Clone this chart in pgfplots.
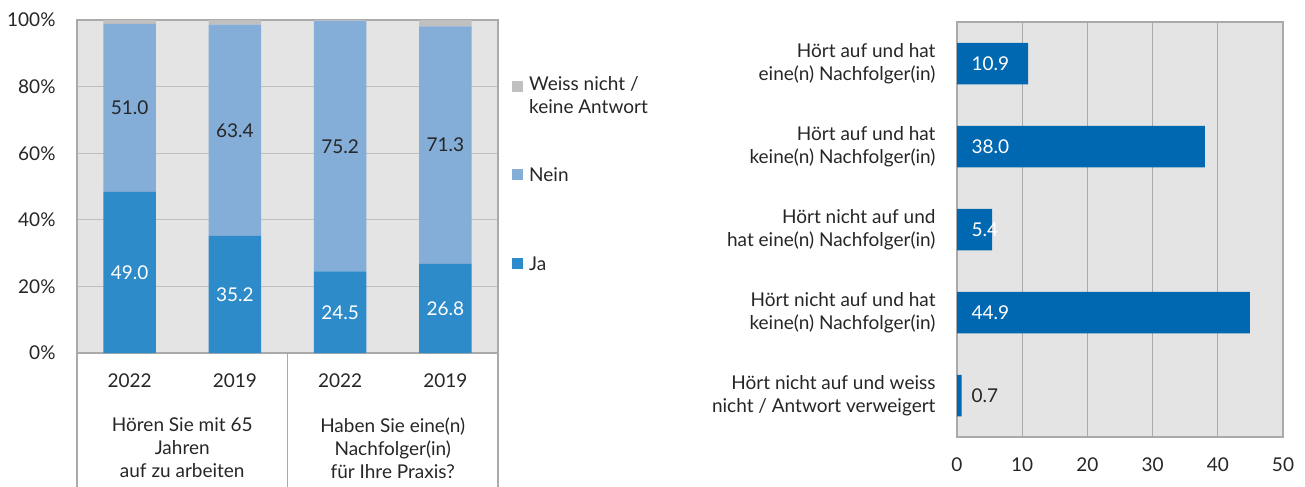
\documentclass[border=0pt]{standalone}
\usepackage{pgfplots}
\pgfplotsset{compat=1.18}
\usepackage{pgfplotstable}
\usepackage{fontspec}
\setmainfont{Lato}
\definecolor{ja}{RGB}{46,139,201}
\definecolor{nein}{RGB}{132,173,216}
\definecolor{weiss}{RGB}{192,192,192}
\definecolor{bg}{RGB}{228,228,228}
\definecolor{gridc}{RGB}{190,190,190}
\definecolor{framec}{RGB}{170,170,170}
\definecolor{barb}{RGB}{0,104,176}
\definecolor{txt}{RGB}{38,38,38}
\newcommand\f{\fontsize{19bp}{23bp}\selectfont}

\pgfplotstableread{
x ja nein weiss jamid neinmid jalab neinlab
0 48.4 50.4 1.2 24.2 73.6 49.0 51.0
1 35.2 63.4 1.4 17.6 66.9 35.2 63.4
2 24.5 75.2 0.3 12.25 62.1 24.5 75.2
3 26.8 71.3 1.9 13.4 62.45 26.8 71.3
}\lefttab

\pgfplotstableread{
y val lab
4 10.9 10.9
3 38.0 38.0
2 5.4 5.4
1 44.9 44.9
0 0.7 0.7
}\righttab

\begin{document}
\begin{tikzpicture}[font=\f, text=txt]
\useasboundingbox (0,0) rectangle (1305bp,487bp);
% ---------- left chart ----------
\begin{axis}[
  at={(77bp,134bp)}, anchor=south west, width=421bp, height=333bp, scale only axis,
  ybar stacked, bar width=0.5,
  xmin=-0.5, xmax=3.5, ymin=0, ymax=100, enlargelimits=false,
  xtick={0,1,2,3}, xticklabels={2022,2019,2022,2019},
  ytick={0,20,...,100}, yticklabels={0\%,20\%,40\%,60\%,80\%,100\%},
  major tick length=0,
  axis background/.style={fill=bg},
  axis line style={framec, line width=1.3bp},
  ymajorgrids, grid style={gridc, line width=1bp},
  xticklabel style={anchor=center, yshift=-28bp},
  yticklabel style={anchor=east, xshift=-18bp},
  clip=false,
]
\addplot[fill=ja, draw=none] table[x=x,y=ja]{\lefttab};
\addplot[fill=nein, draw=none] table[x=x,y=nein]{\lefttab};
\addplot[fill=weiss, draw=none] table[x=x,y=weiss]{\lefttab};
\draw[framec, line width=1.3bp] (axis cs:-0.5,0) -- ++(0pt,-134bp);
\draw[framec, line width=1.3bp] (axis cs:1.5,0) -- ++(0pt,-134bp);
\draw[framec, line width=1.3bp] (axis cs:3.5,0) -- ++(0pt,-134bp);
\node[align=center, anchor=center] at (axis cs:0.5,0) [yshift=-95bp] {Hören Sie mit 65\\Jahren\\auf zu arbeiten};
\node[align=center, anchor=center] at (axis cs:2.5,0) [yshift=-95bp] {Haben Sie eine(n)\\Nachfolger(in)\\für Ihre Praxis?};
\end{axis}
% labels overlay (not stacked)
\begin{axis}[
  at={(77bp,134bp)}, anchor=south west, width=421bp, height=333bp, scale only axis,
  xmin=-0.5, xmax=3.5, ymin=0, ymax=100, enlargelimits=false,
  hide axis, clip=false,
]
\addplot[draw=none, mark=none, nodes near coords, point meta=explicit symbolic,
  nodes near coords align=center,
  every node near coord/.append style={anchor=center, text=white}]
  table[x=x, y=jamid, meta=jalab]{\lefttab};
\addplot[draw=none, mark=none, nodes near coords, point meta=explicit symbolic,
  nodes near coords align=center,
  every node near coord/.append style={anchor=center, text=txt}]
  table[x=x, y=neinmid, meta=neinlab]{\lefttab};
\end{axis}
% legend
\fill[weiss] (512bp,395bp) rectangle ++(11bp,11bp);
\node[anchor=north west, align=left, inner sep=0pt] at (529bp,411bp) {Weiss nicht /\\keine Antwort};
\fill[nein] (512bp,306.5bp) rectangle ++(11bp,11bp);
\node[anchor=west, inner sep=0pt] at (529bp,312bp) {Nein};
\fill[ja] (512bp,217.5bp) rectangle ++(11bp,11bp);
\node[anchor=west, inner sep=0pt] at (529bp,223bp) {Ja};
% ---------- right chart ----------
\begin{axis}[
  at={(957bp,50bp)}, anchor=south west, width=326bp, height=415bp, scale only axis,
  xbar, bar width=0.5,
  xmin=0, xmax=50, ymin=-0.5, ymax=4.5, enlargelimits=false,
  xtick={0,10,...,50}, ytick={0,1,2,3,4},
  yticklabels={{Hört nicht auf und weiss\\nicht / Antwort verweigert},
               {Hört nicht auf und hat\\keine(n) Nachfolger(in)},
               {Hört nicht auf und\\hat eine(n) Nachfolger(in)},
               {Hört auf und hat\\keine(n) Nachfolger(in)},
               {Hört auf und hat\\eine(n) Nachfolger(in)}},
  yticklabel style={align=right, anchor=east, xshift=-18bp},
  xticklabel style={anchor=center, yshift=-28bp},
  /pgf/number format/assume math mode=true,
  major tick length=0,
  axis background/.style={fill=bg},
  axis line style={framec, line width=1.3bp},
  xmajorgrids, grid style={framec, line width=1.3bp},
  clip=false,
]
\addplot[fill=barb, draw=none, bar shift=0pt] table[x=val, y=y]{\righttab};
\addplot[draw=none, fill=none, bar shift=0pt, nodes near coords, point meta=explicit symbolic,
  every node near coord/.append style={anchor=west, xshift=11bp, text=white}]
  table[x expr=0, y=y, meta=lab, skip coords between index={4}{5}]{\righttab};
\addplot[draw=none, fill=none, bar shift=0pt, nodes near coords, point meta=explicit symbolic,
  every node near coord/.append style={anchor=west, xshift=11bp, text=txt}]
  table[x expr=0, y=y, meta=lab, skip coords between index={0}{4}]{\righttab};
\end{axis}
\end{tikzpicture}
\end{document}
